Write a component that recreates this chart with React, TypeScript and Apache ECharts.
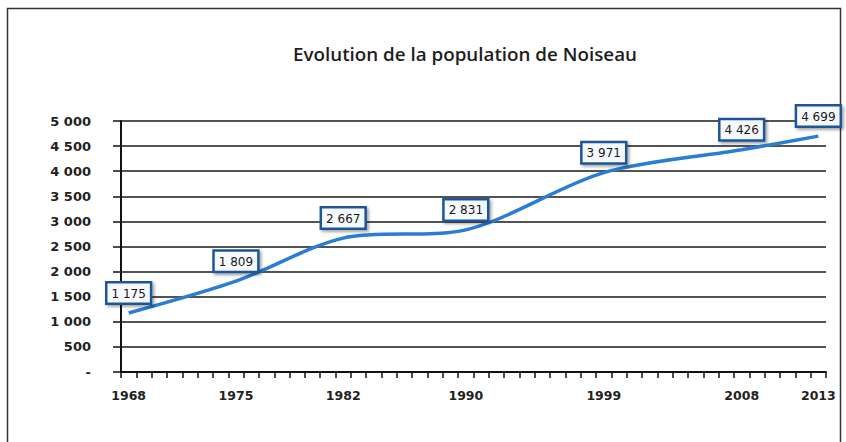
import React, { useEffect, useRef } from "react";
import * as echarts from "echarts";

const years: string[] = [
  "1968","1969","1970","1971","1972","1973","1974","1975","1976","1977",
  "1978","1979","1980","1981","1982","1983","1984","1985","1986","1987",
  "1988","1989","1990","1991","1992","1993","1994","1995","1996","1997",
  "1998","1999","2000","2001","2002","2003","2004","2005","2006","2007",
  "2008","2009","2010","2011","2012","2013",
];
const censusYears: string[] = ["1968", "1975", "1982", "1990", "1999", "2008", "2013"];
const population: number[] = [1175, 1809, 2667, 2831, 3971, 4426, 4699];
const title = "Evolution de la population de Noiseau";

const fmt = (v: number) => {
  if (v === 0) return "-";
  const s = String(Math.round(v));
  return s.replace(/\B(?=(\d{3})+(?!\d))/g, " ");
};

export default function App() {
  const ref = useRef<HTMLDivElement>(null);
  useEffect(() => {
    if (!ref.current) return;
    document.body.style.margin = "0";
    const chart = echarts.init(ref.current, undefined, { renderer: "svg" });
    const seriesData = years.map((y) => {
      const i = censusYears.indexOf(y);
      return i >= 0 ? population[i] : null;
    });
    chart.setOption({
      animation: false,
      backgroundColor: "#ffffff",
      title: {
        text: title,
        left: 460,
        textAlign: "center",
        top: 39,
        textStyle: { fontFamily: "Open Sans", fontWeight: 600, fontSize: 18.8, color: "#1e1e1e" },
      },
      graphic: [
        {
          type: "rect",
          shape: { x: 7.5, y: 8.5, width: 833, height: 450 },
          style: { fill: "none", stroke: "#333", lineWidth: 1.5 },
          silent: true,
        },
      ],
      grid: { left: 121, right: 20, top: 121, bottom: 70 },
      xAxis: {
        type: "category",
        data: years,
        boundaryGap: true,
        axisLine: { lineStyle: { color: "#111", width: 2 } },
        axisTick: { show: true, interval: 0, length: 6, lineStyle: { color: "#111", width: 1.5 } },
        axisLabel: {
          interval: (_i: number, v: string) => censusYears.indexOf(v) >= 0,
          margin: 17,
          fontFamily: "DejaVu Sans",
          fontWeight: "bold",
          fontSize: 12.5,
          color: "#222",
        },
        splitLine: { show: false },
      },
      yAxis: {
        type: "value",
        min: 0,
        max: 5000,
        interval: 500,
        axisLine: { show: true, lineStyle: { color: "#111", width: 2 } },
        axisTick: { show: true, length: 8, lineStyle: { color: "#111", width: 1.5 } },
        axisLabel: {
          formatter: (v: number) => fmt(v),
          margin: 30,
          fontFamily: "DejaVu Sans",
          fontWeight: "bold",
          fontSize: 13,
          color: "#222",
        },
        splitLine: { show: true, lineStyle: { color: "#1a1a1a", width: 1.5 } },
      },
      series: [
        {
          type: "line",
          data: seriesData,
          connectNulls: true,
          smooth: 0.3,
          symbol: "circle",
          symbolSize: 1,
          showSymbol: true,
          itemStyle: { color: "rgba(0,0,0,0)" },
          lineStyle: { color: "#2a7dd1", width: 3.5 },
          label: {
            show: true,
            position: "top",
            distance: 10,
            formatter: (p: any) => fmt(p.value),
            fontFamily: "DejaVu Sans",
            fontSize: 12,
            color: "#1a1a1a",
            backgroundColor: "#f6f9fc",
            borderColor: "#1c5699",
            borderWidth: 2.5,
            padding: [4, 4, 3, 4],
            shadowColor: "rgba(0,0,0,0.35)",
            shadowBlur: 3,
            shadowOffsetX: 2,
            shadowOffsetY: 2,
          },
        },
      ],
    });
    return () => chart.dispose();
  }, []);
  return <div ref={ref} style={{ width: 846, height: 442 }} />;
}
